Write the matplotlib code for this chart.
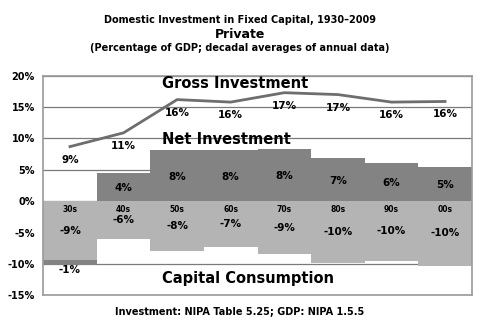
import numpy as np
import matplotlib.pyplot as plt

# decadal averages, % of GDP
decades = ['30s', '40s', '50s', '60s', '70s', '80s', '90s', '00s']
net_inv = [-0.75, 4.5, 8.2, 8.2, 8.35, 6.9, 6.1, 5.4]
cap_cons = [9.4, 6.1, 7.9, 7.3, 8.5, 9.8, 9.6, 10.3]
gross_inv = [8.7, 10.9, 16.2, 15.8, 17.3, 17.0, 15.8, 15.9]
net_labels = ['-1%', '4%', '8%', '8%', '8%', '7%', '6%', '5%']
cons_labels = ['-9%', '-6%', '-8%', '-7%', '-9%', '-10%', '-10%', '-10%']
gross_labels = ['9%', '11%', '16%', '16%', '17%', '17%', '16%', '16%']
yticks = [-15, -10, -5, 0, 5, 10, 15, 20]

LIGHT = '#b4b4b4'
DARK = '#838383'
LINE = '#6e6e6e'

fig = plt.figure(figsize=(4.8, 3.28), dpi=100)
ax = fig.add_axes([0.09, 0.10, 0.893, 0.669])

x = np.arange(len(decades))
cons_neg = -np.array(cap_cons)
net = np.array(net_inv)

# capital consumption below zero
ax.bar(x, cons_neg, width=1.0, color=LIGHT, zorder=2)
# net investment: above zero, or stacked under consumption when negative
net_base = np.where(net < 0, cons_neg, 0)
ax.bar(x, net, bottom=net_base, width=1.0, color=DARK, zorder=2)

ax.plot(x, gross_inv, color=LINE, lw=2, zorder=3)

for i in range(len(x)):
    ax.annotate(gross_labels[i], (x[i], gross_inv[i]), xytext=(0, -13),
                textcoords='offset pixels', ha='center', va='center',
                fontsize=7.5, fontweight='bold', zorder=4)
    if net[i] >= 0:
        ax.text(x[i], net[i] / 2 - 0.2, net_labels[i], ha='center', va='center',
                fontsize=7.5, fontweight='bold', zorder=4)
    else:
        ax.text(x[i], -11.0, net_labels[i], ha='center', va='center',
                fontsize=7.5, fontweight='bold', zorder=4)
    ax.text(x[i], cons_neg[i] / 2, cons_labels[i], ha='center', va='center',
            fontsize=7.5, fontweight='bold', zorder=4)
    ax.text(x[i], -1.35, decades[i], ha='center', va='center',
            fontsize=5.5, fontweight='bold', zorder=4)

ax.text(1.72, 18.8, 'Gross Investment', ha='left', va='center',
        fontsize=10.5, fontweight='bold', zorder=4)
ax.text(1.72, 9.9, 'Net Investment', ha='left', va='center',
        fontsize=10.5, fontweight='bold', zorder=4)
ax.text(1.72, -12.3, 'Capital Consumption', ha='left', va='center',
        fontsize=10.5, fontweight='bold', zorder=4)

ax.set_xlim(-0.5, len(decades) - 0.5)
ax.set_ylim(-15, 20)
ax.set_xticks([])
ax.set_yticks(yticks)
ax.set_yticklabels([f'{t}%' for t in yticks], fontsize=7, fontweight='bold')
ax.tick_params(axis='y', length=0, pad=6)
ax.grid(axis='y', color='#7a7a7a', lw=0.9, zorder=1)
for s in ax.spines.values():
    s.set_color('#9a9a9a')
    s.set_linewidth(1.2)

fig.text(0.5, 0.94, 'Domestic Investment in Fixed Capital, 1930\u20132009',
         ha='center', va='center', fontsize=7, fontweight='bold')
fig.text(0.5, 0.895, 'Private', ha='center', va='center',
         fontsize=9, fontweight='bold')
fig.text(0.5, 0.853, '(Percentage of GDP; decadal averages of annual data)',
         ha='center', va='center', fontsize=7, fontweight='bold')
fig.text(0.5, 0.05, 'Investment: NIPA Table 5.25; GDP: NIPA 1.5.5',
         ha='center', va='center', fontsize=7, fontweight='bold')

fig.savefig('out.png', dpi=100)
